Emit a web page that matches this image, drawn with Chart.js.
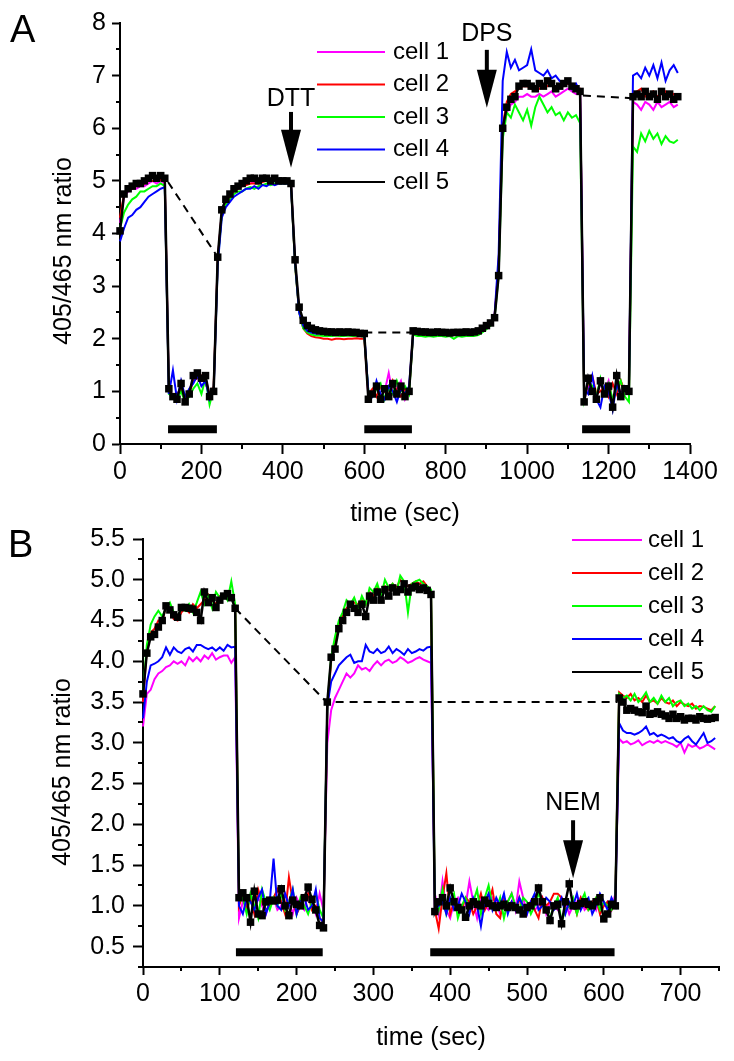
<!DOCTYPE html>
<html>
<head>
<meta charset="utf-8">
<script src="https://cdn.jsdelivr.net/npm/chart.js@4.4.1/dist/chart.umd.min.js"></script>
<style>
  html, body { margin: 0; padding: 0; background: #fff; }
  canvas { position: absolute; left: 0; }
  #chartA { top: 0; }
  #chartB { top: 515px; }
</style>
</head>
<body>
<canvas id="chartA" width="734" height="530"></canvas>
<canvas id="chartB" width="734" height="546"></canvas>
<script>
// ---- panel A data (10 s samples) ----
const timeA = [
  0,10,20,30,40,50,60,70,80,90,
  100,110,120,130,140,150,160,170,180,190,
  200,210,220,230,240,250,260,270,280,290,
  300,310,320,330,340,350,360,370,380,390,
  400,410,420,430,440,450,460,470,480,490,
  500,510,520,530,540,550,560,570,580,590,
  600,610,620,630,640,650,660,670,680,690,
  700,710,720,730,740,750,760,770,780,790,
  800,810,820,830,840,850,860,870,880,890,
  900,910,920,930,940,950,960,970,980,990,
  1000,1010,1020,1030,1040,1050,1060,1070,1080,1090,
  1100,1110,1120,1130,1140,1150,1160,1170,1180,1190,
  1200,1210,1220,1230,1240,1250,1260,1270,1280,1290,
  1300,1310,1320,1330,1340,1350,1360,1370
];
const cell1A = [
  4.2,4.7,4.8,4.85,4.85,4.9,4.9,4.95,5.0,4.95,
  5.0,4.95,1.0,0.95,0.9,1.1,0.85,1.0,1.25,1.3,
  1.2,1.25,0.95,1.05,3.5,4.4,4.6,4.7,4.8,4.85,
  4.9,4.95,4.95,4.98,4.95,5.0,5.0,4.95,5.0,4.98,
  4.98,4.98,4.95,3.45,2.55,2.3,2.2,2.15,2.13,2.12,
  2.1,2.1,2.1,2.11,2.1,2.1,2.11,2.1,2.1,2.1,
  2.08,0.9,1.0,1.15,0.9,1.0,1.35,0.95,1.05,1.2,
  0.85,1.0,2.12,2.1,2.1,2.1,2.09,2.1,2.1,2.1,
  2.1,2.09,2.1,2.1,2.1,2.1,2.1,2.11,2.13,2.18,
  2.22,2.28,2.4,3.3,6.0,6.3,6.45,6.5,6.6,6.6,
  6.65,6.6,6.6,6.65,6.6,6.65,6.7,6.6,6.65,6.7,
  6.75,6.7,6.65,6.65,0.85,1.1,1.05,0.9,1.15,1.0,
  1.2,0.8,1.1,1.0,0.95,1.05,6.5,6.45,6.35,6.5,
  6.45,6.35,6.5,6.4,6.45,6.5,6.4,6.45
];
const cell2A = [
  4.3,4.75,4.85,4.85,4.9,4.92,4.95,5.0,5.0,5.0,
  5.02,5.0,1.05,0.9,0.95,1.05,0.9,0.95,1.2,1.25,
  1.3,1.15,0.95,1.1,3.5,4.4,4.6,4.7,4.8,4.85,
  4.9,4.92,4.95,4.95,4.95,4.98,5.0,4.98,5.0,4.98,
  5.0,4.98,4.95,3.4,2.5,2.2,2.1,2.05,2.03,2.02,
  2.0,2.0,1.98,2.0,2.0,1.99,2.0,2.0,2.01,2.0,
  2.0,0.95,1.05,0.9,1.1,1.0,0.95,1.2,1.0,0.9,
  1.05,1.0,2.1,2.08,2.07,2.08,2.07,2.08,2.08,2.07,
  2.08,2.07,2.08,2.08,2.07,2.08,2.08,2.08,2.1,2.15,
  2.2,2.3,2.45,3.4,6.05,6.5,6.65,6.7,6.75,6.8,
  6.8,6.75,6.8,6.75,6.8,6.8,6.85,6.75,6.8,6.8,
  6.85,6.8,6.75,6.75,0.9,1.15,1.3,0.95,1.0,1.1,
  0.9,1.15,0.95,1.2,1.0,0.95,6.65,6.7,6.75,6.6,
  6.65,6.7,6.6,6.65,6.7,6.6,6.65,6.6
];
const cell3A = [
  4.1,4.4,4.55,4.65,4.7,4.8,4.8,4.85,4.9,4.9,
  4.95,4.9,0.95,0.9,0.85,1.0,0.8,0.9,1.05,1.15,
  0.95,1.25,0.75,1.05,3.45,4.35,4.55,4.65,4.75,4.8,
  4.8,4.85,4.88,4.85,4.9,4.92,4.95,4.92,4.95,4.95,
  4.95,4.95,4.92,3.4,2.5,2.2,2.12,2.08,2.06,2.06,
  2.05,2.05,2.05,2.06,2.05,2.05,2.06,2.05,2.05,2.05,
  2.04,1.0,0.9,1.05,1.15,0.85,1.05,0.95,1.2,1.0,
  1.1,0.95,2.08,2.05,2.05,2.04,2.05,2.04,2.05,2.05,
  2.04,2.05,2.0,2.05,2.04,2.05,2.05,2.05,2.07,2.12,
  2.18,2.25,2.4,3.2,5.8,6.3,6.2,6.45,6.3,6.15,
  6.35,6.05,6.4,6.6,6.45,6.3,6.4,6.25,6.3,6.15,
  6.3,6.2,6.25,6.1,0.85,1.2,1.1,0.9,1.25,0.95,
  1.15,0.85,1.05,1.2,0.9,0.8,5.65,5.55,5.9,5.75,
  5.95,5.8,5.9,5.7,5.85,5.75,5.72,5.78
];
const cell4A = [
  3.85,4.1,4.3,4.35,4.45,4.5,4.6,4.7,4.75,4.8,
  4.85,4.88,0.95,1.4,0.85,1.2,0.9,1.05,1.15,1.3,
  1.1,1.2,0.85,1.0,3.4,4.3,4.5,4.6,4.7,4.75,
  4.8,4.85,4.85,4.9,4.85,4.92,4.9,4.95,4.92,4.95,
  4.95,4.95,4.92,3.45,2.5,2.25,2.15,2.12,2.1,2.1,
  2.1,2.1,2.1,2.1,2.1,2.09,2.1,2.1,2.1,2.1,
  2.08,1.0,0.9,1.2,0.95,0.85,1.1,1.0,0.8,1.05,
  0.95,1.1,2.1,2.1,2.1,2.09,2.1,2.1,2.1,2.1,
  2.1,2.1,2.1,2.1,2.1,2.1,2.1,2.1,2.12,2.18,
  2.22,2.3,2.45,3.6,6.9,7.45,7.15,7.3,7.1,7.15,
  7.2,7.5,7.1,7.05,7.0,7.1,6.95,7.0,6.9,6.85,
  6.9,6.75,6.85,6.7,1.05,0.95,1.3,0.85,0.7,1.1,
  1.0,0.65,1.15,0.9,1.1,1.05,7.0,7.05,6.95,7.15,
  7.0,7.2,6.95,7.25,6.9,7.1,7.2,7.05
];
const cell5A = [
  4.05,4.75,4.85,4.9,4.95,4.95,5.0,5.05,5.1,5.05,
  5.1,5.05,1.05,0.9,0.85,1.15,0.8,0.95,1.3,1.35,
  1.25,1.3,0.9,1.0,3.55,4.45,4.65,4.75,4.85,4.9,
  4.95,5.0,5.05,5.05,5.0,5.05,5.05,5.0,5.05,5.0,
  5.0,5.0,4.95,3.5,2.6,2.35,2.25,2.2,2.17,2.15,
  2.14,2.13,2.13,2.12,2.13,2.12,2.13,2.12,2.12,2.1,
  2.1,0.85,0.95,1.1,0.85,1.05,0.9,1.15,0.95,1.1,
  0.9,1.0,2.15,2.14,2.13,2.13,2.12,2.12,2.13,2.12,
  2.12,2.11,2.12,2.12,2.12,2.13,2.12,2.13,2.15,2.2,
  2.25,2.3,2.4,3.2,6.0,6.4,6.55,6.6,6.8,6.85,
  6.85,6.8,6.75,6.85,6.8,6.9,6.85,6.75,6.8,6.85,
  6.9,6.8,6.75,6.7,0.8,1.25,1.0,0.85,1.2,0.95,
  1.1,0.7,1.3,0.9,1.05,1.0,6.6,6.65,6.6,6.7,
  6.6,6.65,6.55,6.7,6.6,6.65,6.55,6.6
];
// dashed reference lines and treatment bars, panel A  [time, ratio]
const dashA = [[[118, 4.98], [240, 3.55]], [[600, 2.12], [717, 2.12]], [[1137, 6.62], [1258, 6.57]]];
const barsA = [[118, 238], [600, 717], [1135, 1253]];
const barLevelA = 0.28;
const arrowsA = [
  { label: 'DTT', x: 420, textY: 6.56, top: 6.31, tip: 5.25 },
  { label: 'DPS', x: 901, textY: 7.78, top: 7.49, tip: 6.39 }
];
const xTicksA = [0, 200, 400, 600, 800, 1000, 1200, 1400];
const xMinorA = [100, 300, 500, 700, 900, 1100, 1300];
const yTicksA = [0, 1, 2, 3, 4, 5, 6, 7, 8];
const yMinorA = [0.5, 1.5, 2.5, 3.5, 4.5, 5.5, 6.5, 7.5];

// ---- panel B data (5 s samples) ----
const timeB = [
  0,5,10,15,20,25,30,35,40,45,50,55,60,65,70,75,80,85,90,95,
  100,105,110,115,120,125,130,135,140,145,150,155,160,165,170,175,180,185,190,195,
  200,205,210,215,220,225,230,235,240,245,250,255,260,265,270,275,280,285,290,295,
  300,305,310,315,320,325,330,335,340,345,350,355,360,365,370,375,380,385,390,395,
  400,405,410,415,420,425,430,435,440,445,450,455,460,465,470,475,480,485,490,495,
  500,505,510,515,520,525,530,535,540,545,550,555,560,565,570,575,580,585,590,595,
  600,605,610,615,620,625,630,635,640,645,650,655,660,665,670,675,680,685,690,695,
  700,705,710,715,720,725,730,735,740,745
];
const cell1B = [
  3.2,3.6,3.65,3.78,3.85,3.88,3.93,3.95,4.0,3.97,4.0,3.95,4.05,4.0,4.05,4.0,4.07,4.03,4.1,4.02,4.05,4.07,4.07,3.98,4.05,
  0.85,1.05,1.0,1.15,0.95,1.1,1.0,0.9,1.05,1.1,0.95,1.0,1.15,1.05,0.9,1.1,1.0,0.95,1.15,1.05,0.9,1.15,0.95,
  3.0,3.4,3.55,3.65,3.75,3.85,3.8,3.85,3.95,3.9,3.92,3.88,3.95,4.0,3.95,4.0,4.02,3.98,4.0,4.05,4.02,3.98,4.0,4.03,4.05,4.02,4.0,3.98,
  1.15,0.9,1.3,0.95,0.85,1.05,1.1,0.95,1.0,1.3,1.05,0.85,1.1,1.0,0.95,1.1,1.05,0.9,1.0,1.05,1.15,0.95,1.3,1.1,0.9,1.05,0.95,1.0,1.1,0.9,1.05,1.0,0.95,1.1,1.05,0.9,1.0,1.05,1.1,0.95,1.0,1.05,0.95,1.1,1.0,1.05,0.95,1.15,
  3.05,3.0,3.02,2.98,3.0,3.03,2.97,3.0,3.02,3.0,3.03,3.0,3.02,3.0,2.98,2.95,3.0,2.88,2.98,2.95,2.97,2.93,2.95,2.98,2.95,2.92
];
const cell2B = [
  3.5,4.15,4.35,4.4,4.5,4.48,4.68,4.62,4.52,4.5,4.6,4.65,4.6,4.7,4.65,4.7,4.75,4.82,4.75,4.7,4.8,4.82,4.85,4.78,4.7,
  1.0,1.15,0.95,1.1,0.9,1.2,1.05,0.95,1.0,1.1,1.2,1.05,0.9,1.35,1.05,0.9,1.0,1.1,1.15,0.95,1.0,0.85,0.8,
  3.4,4.0,4.25,4.45,4.55,4.65,4.7,4.72,4.7,4.75,4.7,4.85,4.8,4.9,4.85,4.92,4.88,4.95,4.9,5.0,4.95,4.92,4.95,4.98,4.95,4.98,4.92,4.85,
  0.95,0.72,1.1,1.4,0.9,1.05,1.0,0.95,1.1,1.05,0.9,1.0,1.15,0.95,1.05,1.2,0.9,0.85,1.1,1.0,1.05,0.95,1.1,0.9,1.0,1.05,0.95,0.85,1.1,1.0,1.05,1.15,1.15,1.1,0.95,1.0,1.05,0.9,1.1,1.0,0.95,1.05,1.1,0.9,1.0,1.05,0.95,1.05,
  3.62,3.58,3.55,3.6,3.52,3.55,3.5,3.58,3.5,3.52,3.48,3.55,3.5,3.48,3.52,3.45,3.5,3.47,3.45,3.48,3.42,3.45,3.44,3.42,3.4,3.45
];
const cell3B = [
  3.6,4.2,4.45,4.55,4.62,4.55,4.65,4.72,4.6,4.55,4.65,4.62,4.7,4.6,4.72,4.85,4.7,4.8,4.65,4.85,4.78,4.82,4.75,4.98,4.7,
  1.05,1.1,0.9,1.15,1.0,0.85,1.2,1.05,0.95,1.1,1.0,1.15,0.95,1.05,1.2,0.9,1.1,1.0,0.9,1.05,1.15,0.95,0.85,
  3.45,4.05,4.3,4.5,4.6,4.75,4.7,4.78,4.65,4.8,4.7,4.9,4.85,4.95,4.8,5.0,4.9,4.95,4.85,5.05,4.98,4.6,4.95,4.98,5.0,4.95,4.92,4.88,
  1.1,0.95,1.2,0.9,1.05,1.15,0.85,1.0,1.1,0.95,1.05,1.2,0.9,1.1,1.25,1.0,0.95,1.1,0.85,1.05,1.15,1.0,0.95,1.1,1.05,0.9,1.0,1.15,1.05,0.95,0.85,1.0,1.1,0.8,0.95,1.0,1.1,0.9,1.05,1.15,0.95,1.0,1.1,0.95,1.05,1.0,0.95,1.1,
  3.6,3.55,3.58,3.52,3.6,3.5,3.55,3.62,3.5,3.55,3.48,3.58,3.5,3.55,3.45,3.5,3.52,3.45,3.48,3.42,3.45,3.4,3.45,3.4,3.38,3.45
];
const cell4B = [
  3.3,3.75,3.95,3.97,4.0,4.05,4.17,4.08,4.17,4.12,4.1,4.15,4.17,4.12,4.2,4.2,4.17,4.15,4.17,4.13,4.17,4.13,4.2,4.17,4.18,
  1.0,0.9,1.1,1.05,0.95,1.1,1.2,0.9,1.05,1.58,1.0,0.95,1.15,1.0,1.2,0.9,1.05,1.1,0.95,1.0,1.2,0.85,0.8,
  3.45,3.75,3.85,3.95,4.0,4.05,4.08,3.98,4.0,4.0,4.2,4.12,4.1,4.15,4.1,4.12,4.18,4.1,4.15,4.12,4.08,4.15,4.1,4.12,4.15,4.13,4.17,4.18,
  0.95,1.0,1.05,0.9,1.1,0.95,1.0,1.15,1.05,0.9,1.1,1.0,0.75,1.05,1.15,0.95,1.1,1.0,1.15,0.9,1.05,0.95,1.1,1.0,0.9,1.05,1.15,0.95,1.0,1.1,1.05,0.95,1.0,1.1,0.9,1.05,1.0,1.15,0.95,1.05,1.1,0.9,1.0,1.15,1.05,0.95,1.1,1.0,
  3.24,3.15,3.12,3.12,3.1,3.12,3.15,3.2,3.1,3.12,3.08,3.1,3.08,3.05,3.07,3.02,3.0,3.05,3.08,3.02,2.98,3.05,3.12,3.0,3.02,3.06
];
const cell5B = [
  3.6,4.1,4.3,4.33,4.42,4.5,4.68,4.63,4.57,4.54,4.66,4.66,4.65,4.64,4.6,4.5,4.85,4.72,4.78,4.66,4.75,4.8,4.83,4.78,4.65,
  1.1,1.16,1.1,0.8,1.18,0.9,0.88,1.05,1.07,1.06,1.07,1.21,1.0,0.88,1.07,1.02,1.0,1.1,1.23,1.08,0.95,0.76,0.73,
  3.5,4.05,4.15,4.4,4.5,4.6,4.7,4.65,4.6,4.7,4.55,4.8,4.75,4.85,4.75,4.88,4.8,4.9,4.85,4.88,4.95,4.85,4.9,4.92,4.88,4.9,4.87,4.82,
  0.93,1.05,1.1,1.0,1.22,1.05,0.98,0.95,0.86,1.0,1.05,1.02,1.0,1.07,1.03,1.0,0.98,1.0,1.02,0.98,1.0,0.98,0.95,0.9,0.98,1.0,1.05,1.22,1.05,0.95,0.82,1.0,1.02,0.78,1.05,1.27,1.0,1.0,1.03,1.05,1.02,1.0,1.05,1.1,0.84,0.9,1.02,1.0,
  3.55,3.5,3.4,3.42,3.4,3.38,3.37,3.45,3.35,3.36,3.38,3.35,3.33,3.3,3.35,3.3,3.32,3.28,3.3,3.3,3.28,3.32,3.3,3.29,3.3,3.31
];
const dashB = [[[120, 4.65], [239, 3.5], [618, 3.5]]];
const barsB = [[121, 234], [374, 614]];
const barLevelB = 0.43;
const arrowsB = [{ label: 'NEM', x: 560, textY: 2.26, top: 2.05, tip: 1.34 }];
const xTicksB = [0, 100, 200, 300, 400, 500, 600, 700];
const xMinorB = [50, 150, 250, 350, 450, 550, 650, 750];
const yTicksB = [0.5, 1.0, 1.5, 2.0, 2.5, 3.0, 3.5, 4.0, 4.5, 5.0, 5.5];
const yMinorB = [0.25, 0.75, 1.25, 1.75, 2.25, 2.75, 3.25, 3.75, 4.25, 4.75, 5.25];

const cellNames = ['cell 1', 'cell 2', 'cell 3', 'cell 4', 'cell 5'];
const cellColors = ['#ff00ff', '#ff0000', '#00ff00', '#0000ff', '#000000'];

const FONT = 'Arial, "Liberation Sans", Helvetica, sans-serif';
Chart.defaults.font.family = FONT;
Chart.defaults.color = '#000';

function pts(times, vals) {
  return times.map((t, i) => ({ x: t, y: vals[i] }));
}

function buildDatasets(times, series, dashes, bars, barLevel) {
  const drawOrder = [4, 3, 2, 1, 0]; // cell 5 on top
  const sets = series.map((vals, i) => ({
    label: cellNames[i],
    data: pts(times, vals),
    borderColor: cellColors[i],
    borderWidth: i === 4 ? 2.5 : 2,
    pointRadius: i === 4 ? 5.3 : 0,
    pointStyle: 'rect',
    pointBackgroundColor: '#000',
    pointBorderWidth: 0,
    order: drawOrder[i],
    clip: false
  }));
  dashes.forEach(seg => sets.push({
    data: seg.map(p => ({ x: p[0], y: p[1] })),
    borderColor: '#000', borderWidth: 2, borderDash: [8, 6],
    pointRadius: 0, order: 6
  }));
  bars.forEach(b => sets.push({
    data: [{ x: b[0], y: barLevel }, { x: b[1], y: barLevel }],
    borderColor: '#000', borderWidth: 8, borderCapStyle: 'butt',
    pointRadius: 0, order: 6
  }));
  return sets;
}

// fixes axis box size so the plot area lands where the figure has it
function fixAxis(size, horizontal) {
  return s => {
    if (horizontal) s.height = size; else s.width = size;
    s.paddingLeft = s.paddingRight = s.paddingTop = s.paddingBottom = 0;
  };
}

function axis(opts) {
  return {
    type: 'linear', min: opts.min, max: opts.max,
    afterBuildTicks: s => { s.ticks = opts.ticks.map(v => ({ value: v })); },
    afterFit: fixAxis(opts.size, opts.horizontal),
    grid: { display: true, drawOnChartArea: false, drawTicks: true, tickLength: opts.tickLen, color: '#000', tickWidth: 2 },
    border: { display: true, color: '#000', width: 2 },
    ticks: { font: { size: 25 }, color: '#000', padding: opts.pad, maxRotation: 0, autoSkip: false, callback: opts.fmt },
    title: opts.title ? { display: true, text: opts.title, font: { size: 25 }, color: '#000', padding: { top: 0, bottom: opts.titlePad } } : { display: false }
  };
}

function decor(cfg) {
  return {
    id: 'decor',
    afterDraw(chart) {
      const ctx = chart.ctx;
      const xs = chart.scales.x, ys = chart.scales.y;
      ctx.save();
      ctx.strokeStyle = '#000';
      ctx.fillStyle = '#000';
      // minor ticks
      ctx.lineWidth = 2;
      cfg.minorX.forEach(v => {
        const px = Math.round(xs.getPixelForValue(v));
        ctx.beginPath(); ctx.moveTo(px, xs.top); ctx.lineTo(px, xs.top + cfg.minorLenX); ctx.stroke();
      });
      cfg.minorY.forEach(v => {
        const py = Math.round(ys.getPixelForValue(v));
        ctx.beginPath(); ctx.moveTo(ys.right, py); ctx.lineTo(ys.right - cfg.minorLenY, py); ctx.stroke();
      });
      // y axis title
      ctx.save();
      ctx.translate(cfg.yTitle[0], cfg.yTitle[1]);
      ctx.rotate(-Math.PI / 2);
      ctx.font = '25px ' + FONT;
      ctx.textAlign = 'center';
      ctx.textBaseline = 'middle';
      ctx.fillText('405/465 nm ratio', 0, 0);
      ctx.restore();
      // panel letter
      ctx.font = '38px ' + FONT;
      ctx.textAlign = 'left';
      ctx.textBaseline = 'alphabetic';
      ctx.fillText(cfg.letter, cfg.letterPos[0], cfg.letterPos[1]);
      // legend
      ctx.font = '24px ' + FONT;
      ctx.textBaseline = 'middle';
      cellNames.forEach((name, i) => {
        const y = cfg.legend.y0 + i * cfg.legend.dy;
        ctx.strokeStyle = cellColors[i];
        ctx.lineWidth = 2;
        ctx.beginPath(); ctx.moveTo(cfg.legend.x0, y); ctx.lineTo(cfg.legend.x1, y); ctx.stroke();
        ctx.fillStyle = '#000';
        ctx.fillText(name, cfg.legend.tx, y);
      });
      // arrows
      cfg.arrows.forEach(a => {
        const px = xs.getPixelForValue(a.x);
        const top = ys.getPixelForValue(a.top);
        const tip = ys.getPixelForValue(a.tip);
        const head = 38;
        ctx.strokeStyle = '#000';
        ctx.fillStyle = '#000';
        ctx.lineWidth = 4;
        ctx.beginPath(); ctx.moveTo(px, top); ctx.lineTo(px, tip - head + 2); ctx.stroke();
        ctx.beginPath();
        ctx.moveTo(px - 10, tip - head); ctx.lineTo(px + 10, tip - head); ctx.lineTo(px, tip);
        ctx.closePath(); ctx.fill();
        ctx.font = '25px ' + FONT;
        ctx.textAlign = 'center';
        ctx.textBaseline = 'middle';
        ctx.fillText(a.label, px, ys.getPixelForValue(a.textY));
      });
      ctx.restore();
    }
  };
}

function makeChart(id, c) {
  return new Chart(document.getElementById(id), {
    type: 'line',
    data: { datasets: buildDatasets(c.times, c.series, c.dashes, c.bars, c.barLevel) },
    options: {
      responsive: false,
      animation: false,
      events: [],
      parsing: false,
      layout: { padding: c.padding },
      elements: { line: { tension: 0 } },
      plugins: { legend: { display: false }, tooltip: { enabled: false } },
      scales: { x: c.x, y: c.y }
    },
    plugins: [decor(c.decor)]
  });
}

makeChart('chartA', {
  times: timeA,
  series: [cell1A, cell2A, cell3A, cell4A, cell5A],
  dashes: dashA, bars: barsA, barLevel: barLevelA,
  padding: { top: 23, right: 44, left: 0, bottom: 0 },
  x: axis({ min: 0, max: 1400, ticks: xTicksA, size: 86, horizontal: true, tickLen: 10, pad: 3,
            fmt: v => String(v), title: 'time (sec)', titlePad: 1 }),
  y: axis({ min: 0, max: 8, ticks: yTicksA, size: 120, horizontal: false, tickLen: 8, pad: 6,
            fmt: v => String(v) }),
  decor: {
    minorX: xMinorA, minorY: yMinorA, minorLenX: 5, minorLenY: 4,
    yTitle: [64, 251], letter: 'A', letterPos: [10, 42],
    legend: { x0: 317, x1: 385, tx: 393, y0: 52, dy: 32.5 },
    arrows: arrowsA
  }
});

makeChart('chartB', {
  times: timeB,
  series: [cell1B, cell2B, cell3B, cell4B, cell5B],
  dashes: dashB, bars: barsB, barLevel: barLevelB,
  padding: { top: 24, right: 15, left: 0, bottom: 0 },
  x: axis({ min: 0, max: 750, ticks: xTicksB, size: 94, horizontal: true, tickLen: 8, pad: 4,
            fmt: v => String(v), title: 'time (sec)', titlePad: 8 }),
  y: axis({ min: 0.25, max: 5.5, ticks: yTicksB, size: 143, horizontal: false, tickLen: 10, pad: 8,
            fmt: v => v.toFixed(1) }),
  decor: {
    minorX: xMinorB, minorY: yMinorB, minorLenX: 4, minorLenY: 5,
    yTitle: [63, 257], letter: 'B', letterPos: [8, 42],
    legend: { x0: 572, x1: 642, tx: 648, y0: 25, dy: 33 },
    arrows: arrowsB
  }
});
</script>
</body>
</html>
